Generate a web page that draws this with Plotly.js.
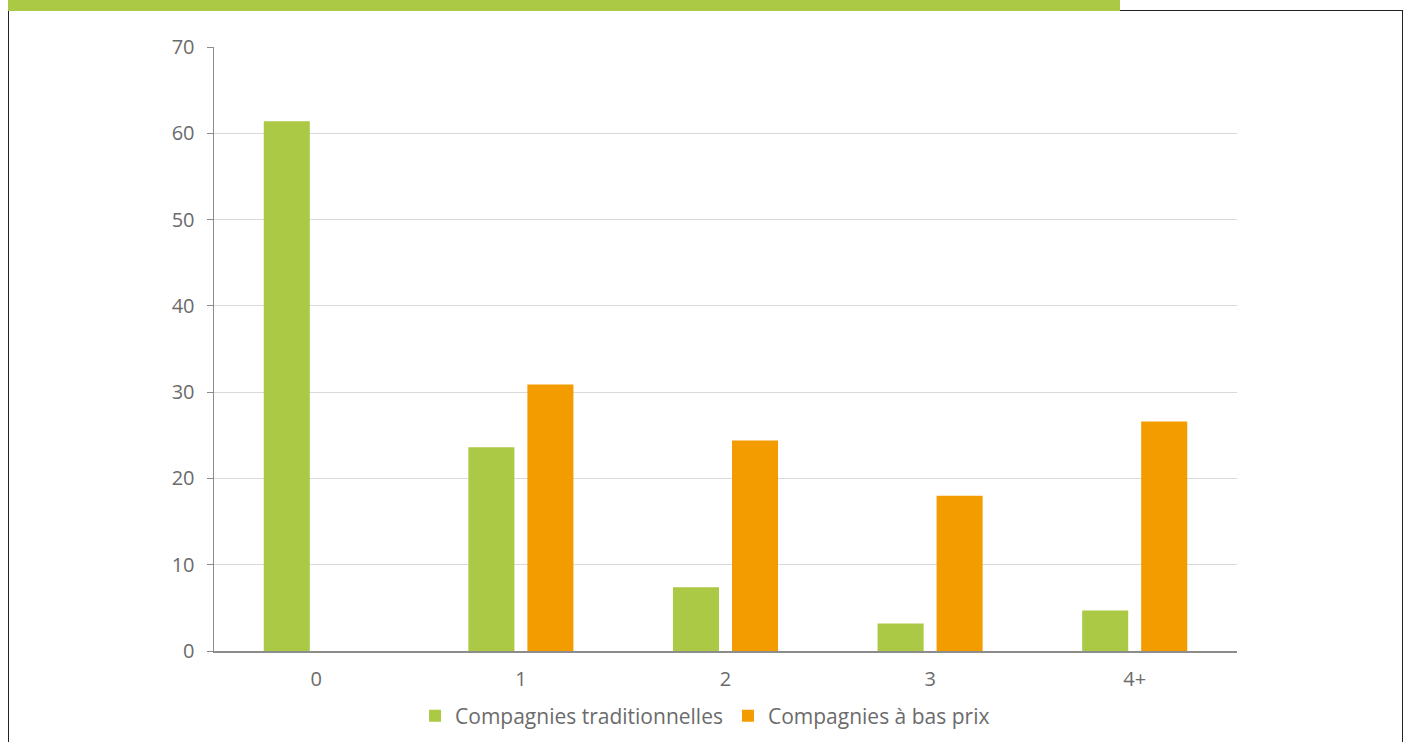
<!DOCTYPE html>
<html>
<head>
<meta charset="utf-8">
<script src="https://cdn.plot.ly/plotly-3.0.1.min.js"></script>
<style>
  html, body { margin: 0; padding: 0; background: #fff; }
  #wrap { position: relative; width: 1408px; height: 742px; overflow: hidden; }
  #frame { position: absolute; left: 8px; top: 10px; width: 1395px; height: 760px; border: 1px solid #222; box-sizing: border-box; pointer-events: none; z-index: 2; }
  #strip { position: absolute; left: 8px; top: 0; width: 1112px; height: 11px; background: #abc945; z-index: 3; }
  #chart { position: absolute; left: 0; top: 0; }
</style>
</head>
<body>
<div id="wrap">
  <div id="chart"></div>
  <div id="frame"></div>
  <div id="strip"></div>
</div>
<script>
const categories = ["0", "1", "2", "3", "4+"];
const traditionnelles = [61.4, 23.6, 7.4, 3.2, 4.7];
const basPrix = [null, 30.9, 24.4, 18.0, 26.6];
const seriesNames = ["Compagnies traditionnelles", "Compagnies à bas prix"];
const yTicks = [0, 10, 20, 30, 40, 50, 60, 70];

const fontFam = "'Open Sans', sans-serif";
const txtColor = "#6b6b6b";

const traces = [
  { type: "bar", name: seriesNames[0], x: categories, y: traditionnelles, marker: { color: "#abc945" }, hoverinfo: "x+y" },
  { type: "bar", name: seriesNames[1], x: categories, y: basPrix, marker: { color: "#f39c00" }, hoverinfo: "x+y" }
];

const layout = {
  width: 1408, height: 742,
  margin: { l: 214, r: 171, t: 47, b: 91, autoexpand: false },
  paper_bgcolor: "rgba(0,0,0,0)",
  plot_bgcolor: "#ffffff",
  barmode: "group",
  bargap: 0.423,
  bargroupgap: 0.22,
  font: { family: fontFam, color: txtColor, size: 20 },
  xaxis: {
    type: "category",
    showline: true, linecolor: "#8c8c8c", linewidth: 1.5,
    ticks: "", showgrid: false,
    tickfont: { family: fontFam, size: 20, color: txtColor },
    ticklabelstandoff: 9,
    automargin: false
  },
  yaxis: {
    range: [0, 70], tickvals: yTicks, ticktext: yTicks.map(String),
    showline: true, linecolor: "#8c8c8c", linewidth: 1.5,
    ticks: "outside", ticklen: 6, tickcolor: "#8c8c8c",
    gridcolor: "#d9d9d9", gridwidth: 1,
    zeroline: false,
    tickfont: { family: fontFam, size: 20, color: txtColor },
    ticklabelstandoff: 8,
    automargin: false
  },
  legend: {
    orientation: "h", x: 0.48, xanchor: "center",
    yref: "container", y: 0.035, yanchor: "middle",
    font: { family: fontFam, size: 21, color: txtColor },
    itemwidth: 30, tracegroupgap: 0
  },
  showlegend: true
};

Plotly.newPlot("chart", traces, layout, { displayModeBar: false, staticPlot: true });
</script>
</body>
</html>
